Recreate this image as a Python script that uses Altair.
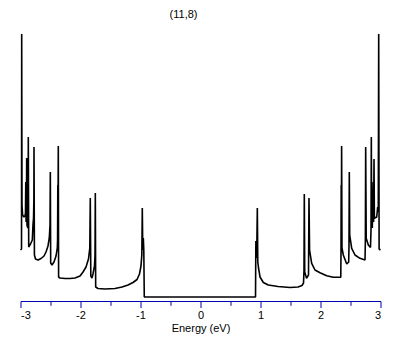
import altair as alt
import pandas as pd

title_text = "(11,8)"
x_title = "Energy (eV)"
tick_values = [-3, -2.5, -2, -1.5, -1, -0.5, 0, 0.5, 1, 1.5, 2, 2.5, 3]

energy = [
    -3.000, -2.983, -2.980, -2.975, -2.965, -2.942, -2.925, -2.917, -2.912, -2.907,
    -2.900, -2.897, -2.892, -2.878, -2.872, -2.870, -2.863, -2.833, -2.803, -2.792,
    -2.783, -2.777, -2.775, -2.768, -2.750, -2.708, -2.658, -2.608, -2.575, -2.542,
    -2.520, -2.508, -2.503, -2.497, -2.475, -2.442, -2.408, -2.387, -2.382, -2.378,
    -2.375, -2.370, -2.365, -2.342, -2.258, -2.175, -2.092, -2.008, -1.958, -1.908,
    -1.867, -1.845, -1.837, -1.828, -1.808, -1.792, -1.767, -1.758, -1.753, -1.747,
    -1.708, -1.592, -1.425, -1.308, -1.208, -1.125, -1.058, -1.017, -0.992, -0.978,
    -0.970, -0.962, -0.953, -0.945, -0.937,
    0.917, 0.920, 0.923, 0.930, 0.938, 0.947, 0.955, 0.967, 0.992, 1.047,
    1.130, 1.292, 1.492, 1.625, 1.692, 1.717, 1.725, 1.730, 1.737, 1.767,
    1.800, 1.808, 1.818, 1.853, 1.908, 1.992, 2.103, 2.213, 2.338, 2.342,
    2.345, 2.348, 2.352, 2.358, 2.380, 2.437, 2.470, 2.475, 2.480, 2.487,
    2.520, 2.575, 2.658, 2.742, 2.748, 2.753, 2.762, 2.797, 2.833, 2.842,
    2.847, 2.853, 2.863, 2.875, 2.880, 2.885, 2.892, 2.898, 2.937, 2.953,
    2.963, 2.970, 2.977, 3.000,
]

dos = [
    0.47, 0.48, 2.63, 0.92, 0.82, 0.80, 0.81, 0.84, 1.15, 0.75,
    0.97, 1.39, 0.72, 0.69, 0.87, 1.60, 0.50, 0.53, 0.57, 0.72,
    0.79, 0.97, 1.50, 0.42, 0.38, 0.37, 0.385, 0.41, 0.45, 0.51,
    0.59, 0.72, 1.25, 0.34, 0.32, 0.35, 0.41, 0.49, 0.57, 1.12,
    0.77, 1.51, 0.20, 0.19, 0.185, 0.185, 0.19, 0.21, 0.25, 0.30,
    0.38, 0.49, 0.99, 0.21, 0.19, 0.23, 0.31, 0.42, 1.04, 0.10,
    0.085, 0.08, 0.085, 0.10, 0.12, 0.145, 0.175, 0.23, 0.31, 0.42,
    0.89, 0.47, 0.59, 0.47, 0.00,
    0.00, 0.32, 0.56, 0.39, 0.47, 0.89, 0.35, 0.29, 0.20, 0.145,
    0.12, 0.105, 0.095, 0.10, 0.115, 0.14, 0.27, 1.03, 0.25, 0.187,
    0.22, 0.99, 0.47, 0.337, 0.27, 0.243, 0.213, 0.197, 0.197, 0.47,
    1.12, 0.57, 1.51, 0.49, 0.42, 0.33, 0.35, 0.52, 1.25, 0.62,
    0.487, 0.42, 0.387, 0.37, 0.57, 1.50, 0.587, 0.52, 0.495, 0.67,
    1.60, 0.75, 0.69, 0.97, 1.15, 0.75, 1.38, 0.787, 0.80, 0.90,
    0.85, 2.63, 0.48, 0.47,
]

df = pd.DataFrame({"E": energy, "DOS": dos, "i": list(range(len(energy)))})

blue = "#0000b0"
font = "Liberation Sans"

chart = (
    alt.Chart(df, title=alt.TitleParams(
        text=title_text, fontSize=11, fontWeight="normal", font=font,
        color="black", anchor="middle", baseline="bottom", offset=5, dy=7, dx=-17))
    .mark_line(color="black", strokeWidth=1.6, strokeJoin="bevel")
    .encode(
        x=alt.X("E:Q",
                scale=alt.Scale(domain=[-3, 3], nice=False, zero=False),
                axis=alt.Axis(
                    values=tick_values, grid=False, title=x_title,
                    domainColor=blue, domainWidth=1, tickColor=blue, tickWidth=1,
                    tickSize={"condition": {"test": "datum.value % 1 === 0", "value": 6.5}, "value": 4.3},
                    labelExpr="datum.value % 1 === 0 ? '' + datum.value : ''",
                    labelFont=font, labelFontSize=11, labelColor="black", labelPadding=2,
                    titleFont=font, titleFontSize=11, titleFontWeight="normal",
                    titleColor="black", titlePadding=2)),
        y=alt.Y("DOS:Q",
                scale=alt.Scale(domain=[-0.04, 2.68], nice=False, zero=False),
                axis=None),
        order="i:Q",
    )
    .properties(width=360, height=272,
                autosize=alt.AutoSizeParams(type="none"),
                padding={"left": 12.5, "top": 21, "right": 20, "bottom": 36})
    .configure_view(stroke=None)
)

chart.save("out.html", embed_options={"renderer": "svg", "actions": False})
